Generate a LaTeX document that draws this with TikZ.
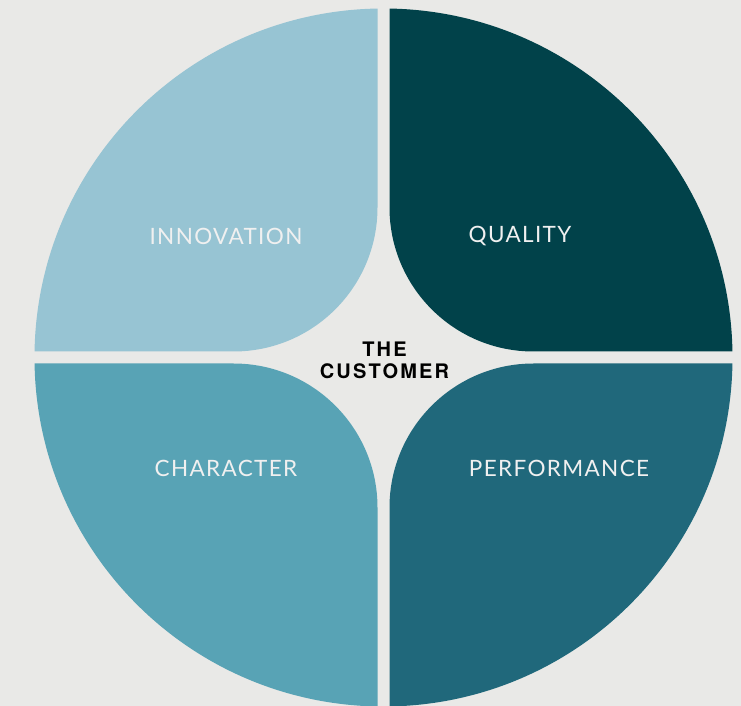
\documentclass[tikz,border=0pt]{standalone}
\usepackage{fontspec}
\setmainfont{Lato}
\newfontfamily\heros{TeX Gyre Heros}
\usepackage{xcolor}
\usepackage{tikz}
\usetikzlibrary{positioning}

\definecolor{bgGray}{HTML}{E9E9E7}
\definecolor{innovationBlue}{HTML}{97C4D3}
\definecolor{qualityTeal}{HTML}{01424A}
\definecolor{characterBlue}{HTML}{58A3B5}
\definecolor{performanceTeal}{HTML}{20687B}

\begin{document}
\begin{tikzpicture}[
    x=1pt, y=1pt,
    quarter/.style={draw=none},
    label/.style={text=white!94!black, font=\fontsize{22.5}{26}\selectfont\addfontfeature{LetterSpace=6}},
    center/.style={text=black, align=center, font=\heros\fontsize{20}{22}\selectfont\bfseries\addfontfeature{LetterSpace=11}}
]

% Background
\fill[bgGray] (-383.5,-348.5) rectangle (357.5,357.5);
\useasboundingbox (-383.5,-348.5) rectangle (357.5,357.5);

% Quarters
\fill[quarter, innovationBlue] (-6,348.95) -- (-6,150) arc[start angle=0, end angle=-90, radius=144]
    -- (-348.95,6) arc[start angle=179.015, end angle=90.985, radius=349] -- cycle;
\fill[quarter, qualityTeal] (6,348.95) -- (6,150) arc[start angle=180, end angle=270, radius=144]
    -- (348.95,6) arc[start angle=0.985, end angle=89.015, radius=349] -- cycle;
\fill[quarter, characterBlue] (-6,-348.95) -- (-6,-150) arc[start angle=0, end angle=90, radius=144]
    -- (-348.95,-6) arc[start angle=180.985, end angle=269.015, radius=349] -- cycle;
\fill[quarter, performanceTeal] (6,-348.95) -- (6,-150) arc[start angle=180, end angle=90, radius=144]
    -- (348.95,-6) arc[start angle=-0.985, end angle=-89.015, radius=349] -- cycle;

% Labels
\node[label] (innovation) at (-157.5,121.5) {INNOVATION};
\node[label] (quality) at (136.5,121.5) {QUALITY};
\node[label] (character) at (-157.5,-110.5) {CHARACTER};
\node[label] (performance) at (175.5,-110.5) {PERFORMANCE};

% Center
\node[center] (customer) at (1,-2.5) {THE\\CUSTOMER};

\end{tikzpicture}
\end{document}
